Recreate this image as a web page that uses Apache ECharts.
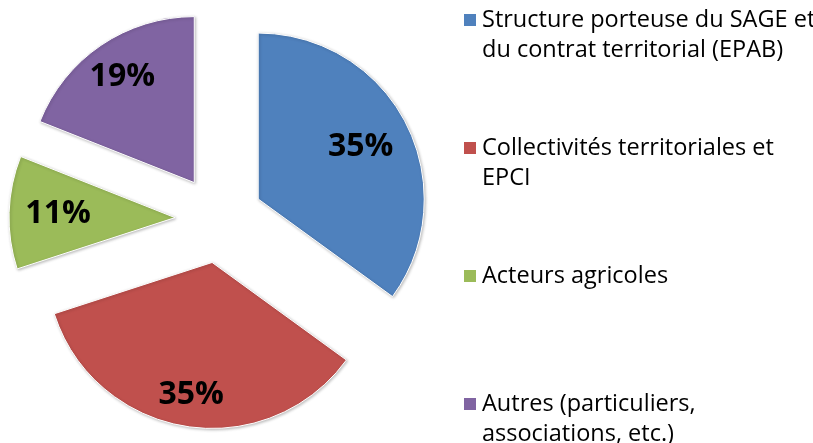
<!DOCTYPE html>
<html>
<head>
<meta charset="utf-8">
<script src="https://cdn.jsdelivr.net/npm/echarts@6/dist/echarts.min.js"></script>
<style>
  html, body { margin: 0; padding: 0; background: #fff; }
  #chart { width: 813px; height: 443px; }
</style>
</head>
<body>
<div id="chart"></div>
<script>
// ---- data ----
const categories = [
  'Structure porteuse du SAGE et\ndu contrat territorial (EPAB)',
  'Collectivités territoriales et\nEPCI',
  'Acteurs agricoles',
  'Autres (particuliers,\nassociations, etc.)'
];
const values = [35, 35, 11, 19];
const colors = ['#4F81BD', '#C0504D', '#9BBB59', '#8064A2'];

// ---- layout constants ----
const CENTER = [219, 219];
const R = 166;
const OFFSET = 44;
const LABEL_RADII = [112, 131, 114, 125];
const LH = 30;

const chart = echarts.init(document.getElementById('chart'), null, { renderer: 'canvas' });

const pieData = categories.map((name, i) => ({
  name: name,
  value: values[i],
  selected: true,
  itemStyle: { color: colors[i] }
}));

// legend text: pad so that the first line sits level with the marker
function legendText(name) {
  const lines = name.split('\n');
  return lines.length > 1 ? '\n' + name : '\n' + name + '\n';
}

const labelSeries = LABEL_RADII.map((lr, k) => ({
  type: 'pie',
  center: CENTER,
  radius: [0, lr * 2],
  startAngle: 90,
  clockwise: true,
  selectedMode: 'multiple',
  selectedOffset: OFFSET,
  silent: true,
  emphasis: { disabled: true },
  itemStyle: { color: 'rgba(0,0,0,0)' },
  labelLine: { show: false },
  label: {
    show: true,
    position: 'inside',
    formatter: '{c}%',
    offset: [0, 2],
    fontFamily: 'Open Sans',
    fontWeight: 'bold',
    fontSize: 32,
    color: '#000000'
  },
  data: categories.map((name, i) => ({
    name: name,
    value: values[i],
    selected: true,
    label: { show: i === k }
  }))
}));

const option = {
  animation: false,
  backgroundColor: '#ffffff',
  legend: {
    orient: 'vertical',
    left: 462,
    top: -25,
    height: 700,
    padding: 0,
    itemWidth: 14,
    itemHeight: 14,
    itemGap: 128 - 3 * LH,
    icon: 'rect',
    selectedMode: false,
    data: categories,
    formatter: legendText,
    textStyle: {
      fontFamily: 'Open Sans',
      fontSize: 23.5,
      lineHeight: LH,
      color: '#000000'
    }
  },
  series: [
    {
      type: 'pie',
      center: CENTER,
      radius: [0, R],
      startAngle: 90,
      clockwise: true,
      selectedMode: 'multiple',
      selectedOffset: OFFSET,
      silent: true,
      label: { show: false },
      labelLine: { show: false },
      emphasis: { disabled: true },
      itemStyle: {
        borderColor: '#ffffff',
        borderWidth: 1,
        shadowBlur: 3,
        shadowColor: 'rgba(0,0,0,0.25)',
        shadowOffsetX: 1,
        shadowOffsetY: 1
      },
      data: pieData
    }
  ].concat(labelSeries)
};

chart.setOption(option);
</script>
</body>
</html>
